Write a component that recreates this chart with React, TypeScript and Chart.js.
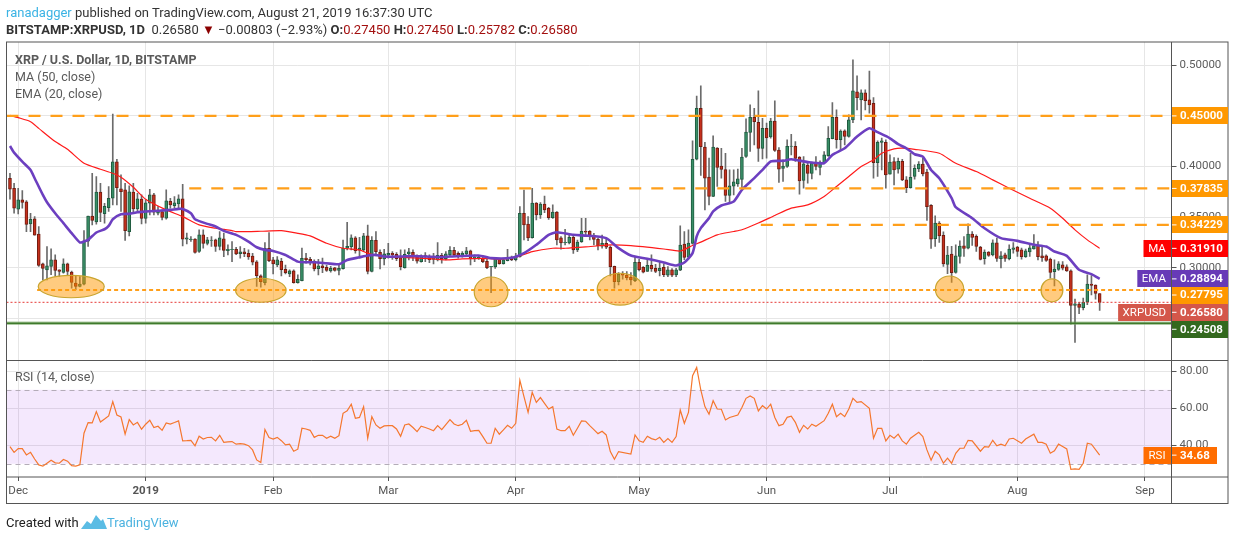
import React, { useEffect, useRef } from "react";
import { Chart, registerables } from "chart.js";

Chart.register(...registerables);

// Day offsets are counted from 1 Dec 2018; bar 1 is 29 Nov 2018.
const firstBarDay = -2;
const opens = [.3884,.3785,.3578,.3670,.3650,.3433,.3482,.3331,.3038,.2979,.3012,.3078,.2979,.2953,.3038,.2956,.2848,.2815,.2838,.3262,.3509,.3453,.3746,.3535,.3594,.3686,.4045,.3779,.3769,.3357,.3746,.3581,.3677,.3486,.3637,.3720,.3538,.3555,.3489,.3657,.3614,.3630,.3680,.3282,.3278,.3282,.3160,.3325,.3239,.3270,.3275,.3210,.3285,.3169,.3179,.3182,.3139,.3156,.3143,.3116,.3057,.2919,.2853,.3192,.3077,.3027,.3064,.2985,.2939,.2968,.2853,.2873,.3096,.3083,.3064,.2991,.3018,.3004,.2968,.2998,.2972,.2991,.3192,.3208,.3294,.3172,.3176,.3314,.2962,.3271,.3152,.3087,.3123,.3143,.3133,.3100,.3001,.3136,.3152,.3110,.3060,.3119,.3113,.3083,.3077,.3123,.3087,.3126,.3172,.3142,.3126,.3136,.3166,.3096,.3099,.3093,.3064,.3011,.3008,.3083,.3040,.3070,.3103,.3080,.3110,.3537,.3432,.3297,.3639,.3521,.3629,.3587,.3495,.3550,.3294,.3248,.3244,.3300,.3175,.3258,.3360,.3360,.3320,.3280,.3212,.3241,.3202,.3014,.2863,.2939,.2925,.2906,.2873,.3054,.3004,.2962,.3024,.2994,.2971,.3004,.2925,.2978,.2929,.2976,.3233,.3105,.3240,.4072,.4576,.4191,.3895,.3704,.4181,.4003,.3970,.3714,.3806,.3829,.3872,.4099,.4336,.4487,.4437,.4178,.4378,.4293,.4450,.4161,.3980,.4000,.4199,.4200,.4092,.3862,.4013,.3931,.4033,.3990,.4039,.4108,.4276,.4487,.4266,.4352,.4296,.4460,.4737,.4658,.4727,.4658,.4625,.4039,.4237,.4240,.3924,.4049,.3974,.4052,.3868,.3792,.3902,.3976,.4025,.3946,.3617,.3288,.3440,.3321,.3032,.3134,.2953,.3111,.3216,.3193,.3331,.3311,.3203,.3088,.3154,.3127,.3246,.3088,.3127,.3088,.3180,.3203,.3177,.3108,.3157,.3186,.3223,.3117,.3117,.3084,.2960,.2982,.3029,.3009,.2969,.2627,.2640,.2604,.2660,.2838,.2828,.2745];
const highs = [.3933,.3834,.3785,.3762,.3663,.3538,.3505,.3407,.3045,.3209,.3186,.3127,.2980,.3088,.3045,.2966,.2923,.2913,.3367,.3509,.3933,.3900,.3834,.3637,.3802,.4519,.4071,.3917,.3834,.3808,.3834,.3736,.3719,.3670,.3775,.3736,.3604,.3571,.3769,.3686,.3703,.3720,.3825,.3341,.3308,.3288,.3374,.3374,.3301,.3308,.3282,.3357,.3341,.3225,.3258,.3202,.3208,.3192,.3176,.3143,.3070,.2929,.3248,.3347,.3103,.3110,.3093,.3027,.2978,.2978,.2929,.3195,.3143,.3103,.3077,.3083,.3096,.3027,.3014,.3004,.3044,.3274,.3449,.3324,.3307,.3300,.3340,.3422,.3307,.3356,.3176,.3182,.3241,.3159,.3149,.3176,.3176,.3192,.3176,.3126,.3126,.3149,.3126,.3143,.3248,.3143,.3159,.3208,.3202,.3156,.3159,.3202,.3175,.3126,.3116,.3116,.3083,.3014,.3103,.3093,.3083,.3182,.3116,.3142,.3603,.3768,.3504,.3784,.3643,.3643,.3708,.3597,.3620,.3554,.3307,.3379,.3323,.3314,.3274,.3488,.3488,.3366,.3340,.3290,.3323,.3290,.3215,.3017,.2952,.2962,.2962,.2952,.3110,.3083,.3011,.3083,.3126,.3034,.3060,.3037,.3011,.2991,.2994,.3414,.3358,.3375,.4253,.4697,.4796,.4240,.4082,.4303,.4187,.4180,.4131,.3967,.3967,.3974,.4180,.4470,.4609,.4576,.4747,.4477,.4428,.4477,.4648,.4187,.4066,.4263,.4319,.4247,.4099,.4099,.4033,.4043,.4099,.4056,.4148,.4395,.4632,.4559,.4362,.4362,.4510,.5053,.4895,.4757,.4757,.4944,.4681,.4253,.4280,.4263,.4115,.4089,.4082,.4071,.3900,.4131,.4016,.4048,.4081,.3973,.3624,.3512,.3456,.3354,.3210,.3210,.3226,.3265,.3308,.3433,.3358,.3325,.3210,.3177,.3160,.3275,.3292,.3160,.3144,.3226,.3249,.3210,.3193,.3183,.3242,.3328,.3259,.3210,.3127,.3094,.3078,.3061,.3061,.3029,.2979,.2690,.2657,.2699,.2930,.2923,.2831,.2745];
const lows = [.3677,.3538,.3532,.3588,.3357,.3357,.3321,.3012,.2880,.2880,.2930,.2913,.2913,.2946,.2920,.2798,.2782,.2810,.2831,.3210,.3423,.3430,.3456,.3440,.3555,.3620,.3620,.3555,.3269,.3315,.3538,.3555,.3433,.3440,.3522,.3522,.3522,.3473,.3479,.3588,.3588,.3588,.3216,.3236,.3259,.3144,.3150,.3193,.3226,.3210,.3160,.3176,.3110,.3126,.3060,.3129,.3093,.3110,.3083,.3027,.2814,.2807,.2830,.3060,.2939,.3011,.2919,.2939,.2912,.2847,.2847,.2870,.3044,.3027,.2968,.2929,.2952,.2962,.2955,.2965,.2929,.2985,.3176,.3176,.3143,.3093,.3159,.2939,.2958,.3116,.2988,.3027,.3093,.3083,.3070,.2978,.2995,.3077,.3070,.3044,.3054,.3060,.3050,.3037,.3067,.3044,.3077,.3110,.3116,.3093,.3103,.3116,.3027,.3060,.3083,.3050,.2991,.2753,.2994,.3034,.3034,.3067,.3070,.3067,.3103,.3274,.3268,.3291,.3472,.3488,.3544,.3478,.3488,.3225,.3182,.3225,.3235,.3142,.3159,.3251,.3323,.3274,.3225,.3175,.3192,.3189,.2919,.2797,.2830,.2886,.2879,.2830,.2863,.2968,.2948,.2962,.2962,.2952,.2919,.2912,.2912,.2912,.2912,.2970,.3080,.3095,.3233,.4066,.3911,.3572,.3621,.3701,.3802,.3885,.3654,.3638,.3720,.3802,.3770,.4089,.4148,.4214,.4049,.4076,.4082,.4280,.4148,.3842,.3852,.3990,.4115,.4049,.3727,.3786,.3835,.3878,.3967,.3918,.4033,.4099,.4273,.4180,.4164,.4214,.4290,.4434,.4559,.4460,.4559,.4526,.3885,.3901,.3967,.3786,.3924,.3819,.3934,.3861,.3742,.3785,.3874,.3950,.3907,.3466,.3190,.3210,.3249,.3012,.2940,.2854,.2946,.3045,.3111,.3186,.3219,.3160,.3078,.3035,.3111,.3117,.3061,.2999,.3061,.3078,.3144,.3111,.3084,.3101,.3111,.3183,.3078,.3061,.3061,.2897,.2821,.2973,.2979,.2963,.2443,.2262,.2545,.2584,.2634,.2732,.2690,.25782];
const closes = [.3775,.3588,.3670,.3644,.3427,.3479,.3321,.3022,.2992,.3019,.3078,.2973,.2963,.3038,.2963,.2854,.2815,.2838,.3262,.3509,.3466,.3746,.3545,.3607,.3686,.4045,.3792,.3752,.3367,.3749,.3581,.3680,.3486,.3640,.3720,.3548,.3565,.3496,.3660,.3621,.3640,.3680,.3282,.3295,.3282,.3150,.3325,.3239,.3275,.3272,.3210,.3295,.3170,.3182,.3182,.3136,.3156,.3139,.3106,.3054,.2922,.2863,.3192,.3070,.3037,.3077,.2981,.2952,.2968,.2853,.2886,.3093,.3080,.3064,.2988,.3018,.3001,.2972,.2994,.2972,.2994,.3195,.3212,.3294,.3169,.3195,.3314,.2962,.3271,.3159,.3090,.3136,.3143,.3126,.3090,.3011,.3133,.3156,.3110,.3064,.3116,.3110,.3080,.3096,.3123,.3087,.3136,.3172,.3126,.3123,.3142,.3166,.3090,.3103,.3103,.3060,.3001,.3014,.3087,.3040,.3077,.3103,.3077,.3116,.3537,.3422,.3294,.3639,.3521,.3629,.3570,.3495,.3550,.3274,.3244,.3251,.3300,.3175,.3254,.3360,.3350,.3320,.3280,.3218,.3241,.3202,.3011,.2863,.2935,.2925,.2902,.2880,.3054,.2981,.2955,.3024,.2988,.2962,.2994,.2932,.2978,.2925,.2978,.3223,.3102,.3243,.4072,.4576,.4197,.3885,.3704,.4191,.3990,.3970,.3714,.3809,.3848,.3878,.4092,.4339,.4487,.4444,.4178,.4378,.4283,.4450,.4158,.3974,.4003,.4200,.4202,.4079,.3858,.4026,.3931,.4033,.4000,.4043,.4115,.4279,.4487,.4266,.4349,.4296,.4460,.4747,.4681,.4727,.4651,.4609,.4039,.4240,.4253,.3918,.4043,.3967,.4052,.3868,.3792,.3894,.3983,.4025,.3927,.3604,.3282,.3440,.3315,.3038,.3124,.2950,.3117,.3213,.3190,.3331,.3298,.3210,.3081,.3154,.3121,.3246,.3091,.3117,.3091,.3183,.3196,.3160,.3108,.3167,.3196,.3216,.3108,.3098,.3071,.2953,.2986,.3038,.2996,.2969,.2627,.2644,.2608,.2657,.2838,.2825,.2745,.2658];

const emaBars = [1,2,4,6,7,9,10,12,14,16,18,19,20,22,24,25,26,28,30,32,34,36,38,40,42,43,45,46,49,51,53,56,59,61,63,65,68,71,73,75,78,81,83,86,88,90,92,96,99,102,106,108,115,118,123,126,129,132,134,138,142,146,149,152,156,160,163,165,167,168,169,171,172,174,177,179,182,184,186,189,191,195,199,201,204,207,210,212,215,217,219,221,223,225,227,230,231,235,238,242,246,250,253,255,258,261,264,266];
const emaValues = [.4203,.4137,.4048,.3966,.3884,.3719,.3647,.3538,.3440,.3341,.3249,.3259,.3275,.3348,.3380,.3413,.3479,.3529,.3532,.3548,.3555,.3561,.3565,.3571,.3581,.3581,.3539,.3479,.3433,.3407,.3364,.3324,.3258,.3202,.3176,.3166,.3126,.3060,.3054,.3054,.3044,.3034,.3077,.3103,.3120,.3126,.3110,.3110,.3116,.3110,.3106,.3110,.3121,.3095,.3098,.3144,.3226,.3325,.3351,.3325,.3315,.3292,.3193,.3121,.3088,.3052,.3022,.3052,.3144,.3309,.3391,.3490,.3556,.3615,.3654,.3770,.3885,.3967,.4050,.4056,.4072,.4043,.4033,.4115,.4180,.4296,.4378,.4339,.4279,.4220,.4180,.4121,.4098,.3966,.3884,.3687,.3598,.3489,.3390,.3292,.3265,.3226,.3209,.3160,.3117,.2979,.2936,.28894];
const maBars = [1,3,6,8,12,15,19,23,26,28,31,34,39,43,47,51,55,56,62,67,71,74,78,82,86,88,92,96,102,107,111,116,120,124,128,133,136,141,147,152,160,164,167,169,173,177,179,183,187,191,195,199,202,205,208,211,213,216,218,221,227,231,236,240,244,249,254,257,260,263,266];
const maValues = [.4506,.4483,.4443,.4377,.4246,.4170,.4032,.3973,.3933,.3894,.3795,.3677,.3571,.3505,.3423,.3390,.3367,.3356,.3360,.3366,.3340,.3314,.3241,.3192,.3176,.3143,.3110,.3103,.3093,.3077,.3087,.3093,.3083,.3103,.3159,.3192,.3192,.3205,.3225,.3218,.3185,.3165,.3220,.3253,.3325,.3358,.3375,.3441,.3516,.3589,.3621,.3704,.3802,.3901,.4000,.4066,.4131,.4174,.4181,.4170,.4131,.4032,.3950,.3868,.3785,.3686,.3588,.3489,.3374,.3275,.3191];

const rsiDays = [-2,-1,0,1,2,3,4,5,6,7,8,9,10,11,12,13,14,15,16,17,18,19,20,21,22,23,24,25,26,27,28,29,30,31,32,33,34,35,36,37,38,39,40,41,42,43,44,45,46,47,48,49,50,51,52,53,54,55,56,57,58,59,60,61,62,63,64,65,66,67,68,69,70,71,72,73,74,75,76,77,78,79,80,81,82,83,84,85,86,87,88,89,90,91,92,93,94,95,96,97,98,99,100,101,102,103,104,105,106,107,108,109,110,111,112,113,114,115,116,117,118,119,120,121,122,123,124,125,126,127,128,129,130,131,132,133,134,135,136,137,138,139,140,141,142,143,144,145,146,149,150,151,152,153,154,155,156,157,158,159,160,161,162,163,164,165,166,167,168,169,170,171,172,173,175,176,177,178,179,180,181,182,183,184,185,186,187,188,189,190,191,192,193,194,196,197,198,199,200,201,202,203,204,205,207,208,209,210,211,212,213,214,215,216,217,219,220,221,222,223,224,225,226,227,228,229,230,231,232,234,235,236,237,238,239,240,241,242,244,245,247,248,249,250,251,252,253,254,255,256,257,258,259,260,261,263];
const rsiValues = [39.3,36.2,38.2,38.2,34.8,36.2,32.6,29.4,28.7,30.3,31.9,30.5,30.3,32.3,31.4,29,28.7,29.4,46.5,52.3,52.1,58.2,52.6,54.2,55.9,63.6,56.4,55.3,46,53.9,51,52.4,48.7,51.4,53.5,49.6,50.3,48.1,52.1,51.5,52.3,53.2,42.4,42.5,42.7,39.7,44.9,43.4,44.2,44.3,42.4,45.4,41.6,41.8,42,40.6,40.9,40.6,39.8,37.5,32.1,30.7,48.5,44.2,43.4,44.3,42.5,40.2,40.6,36.8,37.9,49.2,48.8,48.1,44.3,45.4,45.4,43.8,44.9,43.8,45.2,57.3,58.6,62.2,54.6,55.1,60.9,43.8,55.5,51,49.2,50.5,50.6,50.6,48.8,44.9,51,51.5,49.6,47.4,50.3,49.6,48.8,47.9,50.6,48.5,51.2,53.9,51.5,50.6,51.4,53.5,47.6,47.9,48.1,44.7,41.1,41.1,49.2,46,48.3,50.8,49.2,51.9,75.1,66.3,57.8,68.6,63.2,65.8,62.7,59.6,60.9,48.8,47.9,47.9,50.3,45.4,49.2,53.2,53,50.6,48.5,46.3,47.6,45.6,36.6,32.5,36.6,35.3,45.6,42.4,41.6,44.9,43.6,42.9,44.3,41.6,43.6,41.6,44.7,59.1,51.9,57.8,77.6,82.1,69.9,60.9,56.8,64.1,59.6,59.5,53.7,55,56.4,60.4,65.4,66.7,65.4,58.6,61.4,59.6,62.2,55,50.6,51.4,55.1,55.7,52.4,47,50.8,48.8,51.4,50.3,53.3,57.3,62.2,55.5,57.3,55.5,59.6,65.4,63.2,63.6,60,43.8,49.2,49.2,42.4,45.4,43.8,46,42.4,40.6,43.8,47,44.7,37.5,31.9,36.8,34.8,30.3,33,30.3,35.7,38.4,38.4,42.7,42.4,36.8,39.3,39,42.7,39.7,40.6,39.7,43.4,43.8,41.1,43.4,46,41.6,41.6,40.6,35.7,37,40.6,39.3,38,27,27.2,27,30.3,41.1,40.6,34.68];

const monthDays = [0, 31, 62, 90, 121, 151, 182, 212, 243, 274];
const monthLabels = ["Dec", "2019", "Feb", "Mar", "Apr", "May", "Jun", "Jul", "Aug", "Sep"];
const priceTicks = [0.25, 0.3, 0.35, 0.4, 0.45, 0.5];
const rsiTicks = [40, 60, 80];

const dayMin = -2.845;
const dayMax = 280.47;
const dashedLevels = [0.45, 0.37835, 0.34229];
const dashedFrom = [dayMin, 41.6, 180.6];
const supportLevel = 0.27795;
const supportFrom = 4.6;
const lastClose = 0.2658;
const floorLevel = 0.24508;

const circleDays = [12.9, 59, 115, 146.4, 226.5, 251.4];
const circlePrices = [0.2814, 0.2777, 0.2761, 0.2788, 0.2788, 0.2776];
const circleDayRadii = [8.03, 6.15, 4.1, 5.6, 3.45, 2.65];
const circlePriceRadii = [0.0111, 0.01186, 0.0147, 0.0157, 0.013, 0.0113];

const tagValues = [0.45, 0.37835, 0.34229, 0.3191, 0.28894, 0.27795, 0.2658, 0.24508];
const tagTexts = ["0.45000", "0.37835", "0.34229", "0.31910", "0.28894", "0.27795", "0.26580", "0.24508"];
const tagNames = ["", "", "", "MA", "EMA", "", "XRPUSD", ""];
const tagColors = ["#ff9800", "#ff9800", "#ff9800", "#ff0000", "#673ab7", "#ff9800", "#d4574a", "#33691e"];
const tagNudges = [0, 0, 0, 0, 0, 5, 10, 6];

const FONT = 'Roboto, "Noto Sans", sans-serif';
const GREEN = "#388e66";
const GREEN_EDGE = "#1f5a3f";
const RED = "#c5301d";
const RED_EDGE = "#6f1c10";
const GRID = "#e6e6e6";
const FRAME = "#555555";

const days = opens.map((_, i) => firstBarDay + i);
const barDay = (b: number) => firstBarDay + b - 1;
const isUp = (i: number) => closes[i] >= opens[i];

const panePlugin = {
  id: "panes",
  beforeDatasetsDraw(chart: any) {
    const { ctx, chartArea: a, scales } = chart;
    const r = scales.rsi;
    ctx.save();
    ctx.fillStyle = "rgba(150,40,235,0.105)";
    ctx.fillRect(a.left, r.getPixelForValue(70), a.width, r.getPixelForValue(30) - r.getPixelForValue(70));
    ctx.strokeStyle = "#b4acb8";
    ctx.setLineDash([5, 4]);
    ctx.lineWidth = 1;
    [70, 30].forEach((v) => {
      const y = Math.round(r.getPixelForValue(v)) + 0.5;
      ctx.beginPath();
      ctx.moveTo(a.left, y);
      ctx.lineTo(a.right, y);
      ctx.stroke();
    });
    ctx.restore();
  },
  afterDatasetsDraw(chart: any) {
    const { ctx, chartArea: a, scales } = chart;
    const { x, y, rsi } = scales;
    ctx.save();
    // circled support zones
    circleDays.forEach((d, i) => {
      const cx = x.getPixelForValue(d);
      const cy = y.getPixelForValue(circlePrices[i]);
      const rx = x.getPixelForValue(d + circleDayRadii[i]) - cx;
      const ry = y.getPixelForValue(circlePrices[i] - circlePriceRadii[i]) - cy;
      ctx.beginPath();
      ctx.ellipse(cx, cy, rx, ry, 0, 0, Math.PI * 2);
      ctx.fillStyle = "rgba(255,152,0,0.5)";
      ctx.fill();
      ctx.lineWidth = 1.2;
      ctx.strokeStyle = "#c9a52f";
      ctx.stroke();
    });
    // frame
    const outerRight = x.right + 56.5;
    const outerBottom = a.bottom + 26.5;
    ctx.strokeStyle = FRAME;
    ctx.lineWidth = 1;
    ctx.strokeRect(a.left, a.top, outerRight - a.left, outerBottom - a.top);
    const sep = y.bottom;
    [sep, a.bottom].forEach((yy) => {
      ctx.beginPath();
      ctx.moveTo(a.left, yy);
      ctx.lineTo(outerRight, yy);
      ctx.stroke();
    });
    ctx.beginPath();
    ctx.moveTo(a.right, a.top);
    ctx.lineTo(a.right, outerBottom);
    ctx.stroke();
    // pane legends
    ctx.textBaseline = "middle";
    ctx.textAlign = "left";
    ctx.fillStyle = "#5a5a5a";
    ctx.font = `bold 12.5px ${FONT}`;
    ctx.fillText("XRP / U.S. Dollar, 1D, BITSTAMP", 15, 60.5);
    ctx.font = `12.5px ${FONT}`;
    ctx.fillText("MA (50, close)", 15, 77.5);
    ctx.fillText("EMA (20, close)", 15, 94.5);
    ctx.fillText("RSI (14, close)", 15, 378);
    // value tags
    const tag = (cy: number, color: string, text: string, name: string, w: number) => {
      const top = Math.round(cy - 8.5);
      ctx.fillStyle = color;
      ctx.fillRect(a.right + 0.5, top, w, 17);
      ctx.strokeStyle = "#ffffff";
      ctx.beginPath();
      ctx.moveTo(a.right + 0.5, cy);
      ctx.lineTo(a.right + 5, cy);
      ctx.stroke();
      ctx.fillStyle = "#ffffff";
      ctx.font = `bold 11.5px ${FONT}`;
      ctx.textAlign = "left";
      ctx.fillText(text, a.right + 8.5, cy + 0.5);
      if (name) {
        ctx.font = `11.5px ${FONT}`;
        const nw = ctx.measureText(name).width + 9;
        const bw = Math.max(nw, 27);
        ctx.fillStyle = color;
        ctx.fillRect(a.right - bw - 1, top, bw + 0.5, 17);
        ctx.fillStyle = "#ffffff";
        ctx.textAlign = "center";
        ctx.fillText(name, a.right - 1 - bw / 2, cy + 0.5);
      }
    };
    tagValues.forEach((v, i) => {
      tag(y.getPixelForValue(v) + tagNudges[i], tagColors[i], tagTexts[i], tagNames[i], 56);
    });
    tag(rsi.getPixelForValue(rsiValues[rsiValues.length - 1]), "#ff6d00", "34.68", "RSI", 45);
    ctx.restore();
  },
};

const hLine = (level: number, from: number, color: string, width: number, dash: number[], order: number) => ({
  type: "line" as const,
  data: [{ x: from, y: level }, { x: dayMax, y: level }],
  borderColor: color,
  borderWidth: width,
  borderDash: dash,
  pointRadius: 0,
  yAxisID: "y",
  order,
});

export default function App() {
  const ref = useRef<HTMLCanvasElement>(null);
  useEffect(() => {
    document.body.style.margin = "0";
    const chart = new Chart(ref.current as HTMLCanvasElement, {
      type: "bar",
      data: {
        datasets: [
          {
            label: "Wicks",
            data: days.map((d, i) => ({ x: d, y: [lows[i], highs[i]] })),
            backgroundColor: "#6b6b6b",
            borderWidth: 0,
            barThickness: 1,
            grouped: false,
            yAxisID: "y",
            order: 20,
          },
          {
            label: "XRPUSD",
            data: days.map((d, i) => ({ x: d, y: [opens[i], closes[i]] })),
            backgroundColor: days.map((_, i) => (isUp(i) ? GREEN : RED)),
            borderColor: days.map((_, i) => (isUp(i) ? GREEN_EDGE : RED_EDGE)),
            borderWidth: 1,
            borderSkipped: false,
            barThickness: 3,
            grouped: false,
            yAxisID: "y",
            order: 19,
          },
          hLine(floorLevel, dayMin, "rgba(110,160,90,0.55)", 3.5, [], 12),
          hLine(floorLevel, dayMin, "#3f7a2c", 1.5, [], 11),
          hLine(lastClose, dayMin, "#e53935", 1, [2, 2], 10),
          {
            type: "line" as const,
            label: "MA",
            data: maBars.map((b, i) => ({ x: barDay(b), y: maValues[i] })),
            borderColor: "#ff1a1a",
            borderWidth: 1.2,
            pointRadius: 0,
            tension: 0.2,
            yAxisID: "y",
            order: 9,
          },
          {
            type: "line" as const,
            label: "EMA",
            data: emaBars.map((b, i) => ({ x: barDay(b), y: emaValues[i] })),
            borderColor: "#6c3fc0",
            borderWidth: 2.6,
            pointRadius: 0,
            tension: 0.2,
            yAxisID: "y",
            order: 8,
          },
          ...dashedLevels.map((v, i) => hLine(v, dashedFrom[i], "#ff9f1a", 2.4, [12, 10], 7)),
          hLine(supportLevel, supportFrom, "#ff9f1a", 2.2, [4, 3], 6),
          {
            type: "line" as const,
            label: "RSI",
            data: rsiDays.map((d, i) => ({ x: d, y: rsiValues[i] })),
            borderColor: "#f5772e",
            borderWidth: 1.2,
            pointRadius: 0,
            tension: 0,
            yAxisID: "rsi",
            order: 5,
          },
        ] as any,
      },
      options: {
        responsive: false,
        animation: false,
        devicePixelRatio: 1,
        layout: { padding: { left: 6.5, right: 6, top: 42, bottom: 36.5 } },
        plugins: { legend: { display: false }, tooltip: { enabled: false }, title: { display: false } },
        parsing: { xAxisKey: "x", yAxisKey: "y" } as any,
        scales: {
          x: {
            type: "linear",
            offset: false,
            min: dayMin,
            max: dayMax,
            afterBuildTicks: (s: any) => {
              s.ticks = monthDays.map((value) => ({ value }));
            },
            afterFit: (s: any) => {
              s.height = 26.5;
            },
            grid: { offset: false, color: GRID, tickColor: FRAME, tickLength: 4, lineWidth: 1 },
            border: { display: false },
            ticks: {
              autoSkip: false,
              maxRotation: 0,
              padding: 3,
              color: "#555555",
              font: (c: any) => ({ family: FONT, size: 11.5, weight: c.index === 1 ? "bold" : "normal" }),
              callback: (v: any) => monthLabels[monthDays.indexOf(v)],
            },
          },
          y: {
            type: "linear",
            position: "right",
            stack: "panes",
            stackWeight: 318.5,
            min: 0.2083,
            max: 0.52302,
            afterBuildTicks: (s: any) => {
              s.ticks = priceTicks.map((value) => ({ value }));
            },
            afterFit: (s: any) => {
              s.width = 56.5;
            },
            grid: { color: GRID, tickColor: FRAME, tickLength: 5 },
            border: { display: false },
            ticks: {
              padding: 3,
              color: "#5c5c5c",
              align: "center",
              font: { family: FONT, size: 11.5 },
              callback: (v: any) => Number(v).toFixed(5),
            },
          },
          rsi: {
            type: "linear",
            position: "right",
            stack: "panes",
            stackWeight: 116.5,
            min: 22.86,
            max: 85.84,
            afterBuildTicks: (s: any) => {
              s.ticks = rsiTicks.map((value) => ({ value }));
            },
            afterFit: (s: any) => {
              s.width = 56.5;
            },
            grid: { color: GRID, tickColor: FRAME, tickLength: 5 },
            border: { display: false },
            ticks: {
              padding: 3,
              color: "#5c5c5c",
              font: { family: FONT, size: 11.5 },
              callback: (v: any) => Number(v).toFixed(2),
            },
          },
        },
      } as any,
      plugins: [panePlugin as any],
    });
    return () => chart.destroy();
  }, []);

  const text: React.CSSProperties = {
    position: "absolute",
    left: 6,
    whiteSpace: "pre",
    fontFamily: FONT,
    fontSize: 13,
    lineHeight: "17px",
    color: "#333333",
  };
  const val = { color: "#a30f0f" };
  return (
    <div style={{ position: "absolute", left: 0, top: 0, width: 1234, height: 540, overflow: "hidden", background: "#fff" }}>
      <canvas ref={ref} width={1234} height={540} style={{ position: "absolute", left: 0, top: 0 }} />
      <div style={{ ...text, top: 4 }}>
        <span style={{ color: "#3bb3e4" }}>ranadagger</span> published on TradingView.com, August 21, 2019 16:37:30 UTC
      </div>
      <div style={{ ...text, top: 21 }}>
        <b>BITSTAMP:XRPUSD, 1D</b>  0.26580 <span style={{ color: "#8b0000" }}>▼</span> −0.00803 (−2.93%) <b>O:</b>
        <span style={val}>0.27450</span> <b>H:</b><span style={val}>0.27450</span> <b>L:</b>
        <span style={val}>0.25782</span> <b>C:</b><span style={val}>0.26580</span>
      </div>
      <div style={{ ...text, top: 514, color: "#222222" }}>Created with</div>
      <svg width="26" height="16" viewBox="0 0 26 16" style={{ position: "absolute", left: 81, top: 514 }}>
        <path d="M0 15 L6 7 L10 10 L15 1 L20 7 L22 5 L26 15 Z" fill="#5bbce4" />
      </svg>
      <div style={{ ...text, left: 107, top: 514, color: "#4cb3e0" }}>TradingView</div>
    </div>
  );
}
